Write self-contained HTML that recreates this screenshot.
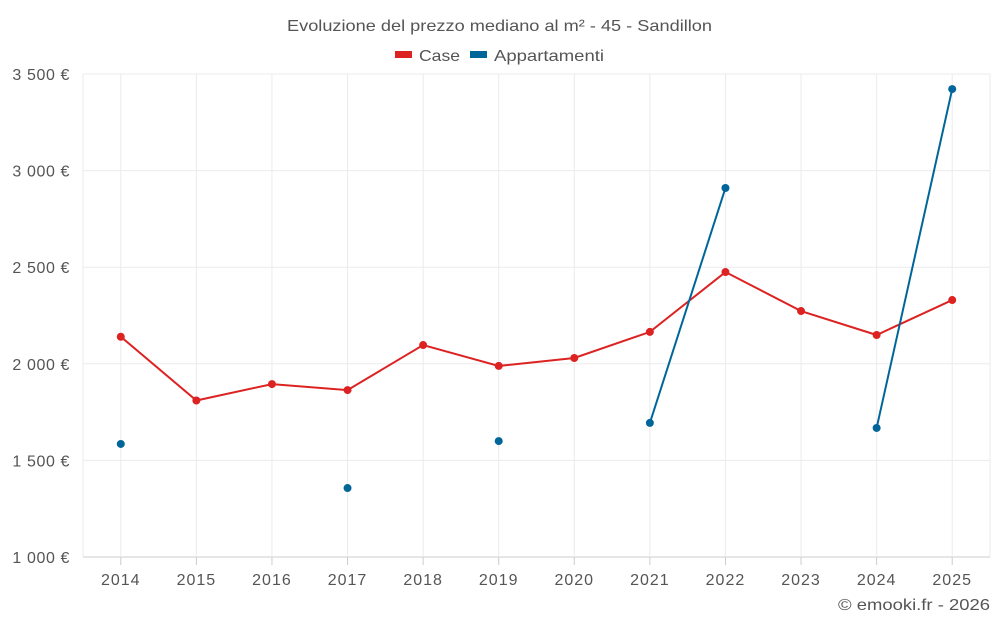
<!DOCTYPE html>
<html><head><meta charset="utf-8"><style>
body{margin:0;background:#fff;font-family:"Liberation Sans",sans-serif;}
svg text{font-family:"Liberation Sans",sans-serif;}
</style></head><body>
<svg id="chart" width="1000" height="625" viewBox="0 0 1000 625">
<text x="287" y="31" textLength="425" lengthAdjust="spacingAndGlyphs" font-size="16" fill="#555">Evoluzione del prezzo mediano al m² - 45 - Sandillon</text>
<g>
<g><rect x="395" y="51" width="17" height="7" fill="#dd2222"/><text x="419" y="61" textLength="41" lengthAdjust="spacingAndGlyphs" font-size="16" fill="#555">Case</text></g>
<g><rect x="470" y="51" width="17" height="7" fill="#006699"/><text x="494" y="61" textLength="110" lengthAdjust="spacingAndGlyphs" font-size="16" fill="#555">Appartamenti</text></g>
</g>
<g id="grid"></g>
<g id="axes"></g>
<g id="series"></g>
<text x="838" y="610" textLength="152" lengthAdjust="spacingAndGlyphs" font-size="16" fill="#555">© emooki.fr - 2026</text>
</svg>
<script>
const categories=["2014","2015","2016","2017","2018","2019","2020","2021","2022","2023","2024","2025"];
const caseValues=[2140,1810,1895,1864,2097,1989,2030,2165,2475,2273,2149,2330];
const appValues=[1585,null,null,1357,null,1600,null,1694,2910,null,1668,3422];
const yTicks=[1000,1500,2000,2500,3000,3500];
const yTickLabels=["1 000 €","1 500 €","2 000 €","2 500 €","3 000 €","3 500 €"];
const L=83,R=990,T=74,B=557,ymin=1000,ymax=3500;
const band=(R-L)/categories.length;
const x=i=>L+band*(i+0.5);
const y=v=>B-(v-ymin)/(ymax-ymin)*(B-T);
const NS="http://www.w3.org/2000/svg";
function mk(tag,attrs,parent){const e=document.createElementNS(NS,tag);for(const k in attrs)e.setAttribute(k,attrs[k]);parent.appendChild(e);return e;}
const grid=document.getElementById('grid'),axes=document.getElementById('axes'),series=document.getElementById('series');
yTicks.forEach((t,i)=>{
 const l=mk('line',{x1:L,x2:R,y1:y(t),y2:y(t),stroke:i==0?'#ccc':'#ebebeb'},grid);
 
 
 const tx=mk('text',{x:70,y:y(t)+6,'text-anchor':'end','font-size':16,'letter-spacing':'0.6',fill:'#555'},axes);
 tx.textContent=yTickLabels[i];
 
 
});
[L,R].forEach(px=>{const l=mk('line',{x1:px,x2:px,y1:T,y2:B,stroke:'#ebebeb'},grid);
 
 });
categories.forEach((c,i)=>{
 const l=mk('line',{x1:x(i),x2:x(i),y1:T,y2:B,stroke:'#ebebeb'},grid);
 
 
 const tk=mk('line',{x1:x(i),x2:x(i),y1:B,y2:B+8,stroke:'#ccc'},axes);
 
 
 const tx=mk('text',{x:x(i),y:585,'text-anchor':'middle','font-size':16,'letter-spacing':'1',fill:'#555'},axes);
 tx.textContent=c;
 
 
});
function draw(vals,color,name){
 let seg=[];
 const flush=()=>{if(seg.length>1){const p=mk('polyline',{points:seg.join(' '),fill:'none',stroke:color,'stroke-width':2},series);
  
  }seg=[];};
 vals.forEach((v,i)=>{if(v==null){flush();return;}seg.push(x(i)+','+y(v));});
 flush();
 vals.forEach((v,i)=>{if(v==null)return;
  const c=mk('circle',{cx:x(i),cy:y(v),r:4,fill:color},series);
  
  });
}
draw(caseValues,'#dd2222','case');
draw(appValues,'#006699','appartamenti');
</script>
</body></html>
